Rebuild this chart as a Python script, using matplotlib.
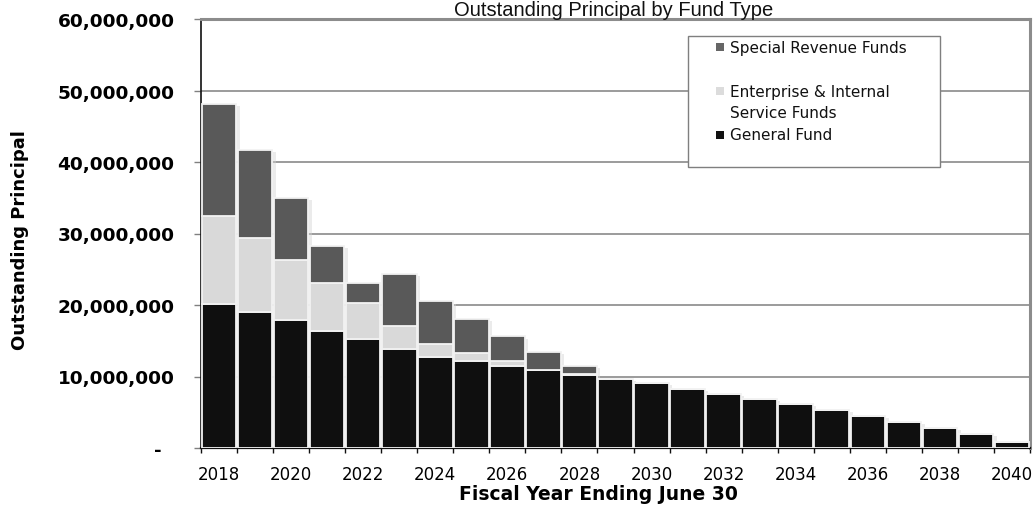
import matplotlib
matplotlib.use("Agg")
import matplotlib.pyplot as plt
import matplotlib.patheffects as pe
from matplotlib.patches import Rectangle
from matplotlib.ticker import FuncFormatter
import numpy as np

# Outstanding principal by fiscal year, in millions of dollars
years = [2018, 2019, 2020, 2021, 2022, 2023, 2024, 2025, 2026, 2027, 2028, 2029,
         2030, 2031, 2032, 2033, 2034, 2035, 2036, 2037, 2038, 2039, 2040]
general_fund = [20.1, 19.0, 17.9, 16.4, 15.2, 13.9, 12.7, 12.1, 11.5, 10.95, 10.15, 9.7,
                9.05, 8.3, 7.6, 6.85, 6.1, 5.3, 4.5, 3.65, 2.8, 1.9, 0.85]
enterprise_internal = [12.4, 10.4, 8.4, 6.7, 5.1, 3.2, 1.8, 1.2, 0.6, 0.0, 0.15, 0.0,
                       0.0, 0.0, 0.0, 0.0, 0.0, 0.0, 0.0, 0.0, 0.0, 0.0, 0.0]
special_revenue = [15.6, 12.3, 8.7, 5.1, 2.8, 7.2, 6.0, 4.7, 3.5, 2.45, 1.2, 0.0,
                   0.0, 0.0, 0.0, 0.0, 0.0, 0.0, 0.0, 0.0, 0.0, 0.0, 0.0]
series_labels = ["Special Revenue Funds", "Enterprise & Internal\nService Funds", "General Fund"]
year_labels = [str(y) for y in years]

MILLION = 1e6
gen = np.array(general_fund) * MILLION
ent = np.array(enterprise_internal) * MILLION
spe = np.array(special_revenue) * MILLION
total = gen + ent + spe

W, H = 1033, 506
fig = plt.figure(figsize=(W / 100, H / 100), dpi=100)
fig.patch.set_facecolor("white")
ax = fig.add_axes([201 / W, 1 - 449 / H, 829 / W, 429 / H])

x = np.arange(len(years)) + 0.5
ax.set_xlim(0, len(years))
ax.set_ylim(0, 60 * MILLION)

bar_w = 0.96
edge = "#f2f2f2"
# soft drop shadow behind each column
ax.bar(x, total, width=bar_w, color="none", linewidth=0, zorder=2,
       path_effects=[pe.SimplePatchShadow(offset=(2.5, -1.5), shadow_rgbFace="#d4d4d4", alpha=0.45)])
ax.bar(x, gen, width=bar_w, color="#0f0f0f", edgecolor=edge, linewidth=1.3, zorder=3)
ax.bar(x, ent, width=bar_w, bottom=gen, color="#d9d9d9", edgecolor=edge, linewidth=1.3, zorder=3)
ax.bar(x, spe, width=bar_w, bottom=gen + ent, color="#595959", edgecolor=edge, linewidth=1.3, zorder=3)

# gridlines and frame
ax.set_axisbelow(True)
ax.yaxis.grid(True, color="#8a8a8a", linewidth=1.2)
ax.spines["left"].set_color("#111111")
ax.spines["left"].set_linewidth(1.2)
ax.spines["bottom"].set_color("#111111")
ax.spines["bottom"].set_linewidth(1.6)
ax.spines["top"].set_color("#8c8c8c")
ax.spines["top"].set_linewidth(2.2)
ax.spines["right"].set_color("#8c8c8c")
ax.spines["right"].set_linewidth(2.2)

# y axis
ax.set_yticks(np.arange(0, 61, 10) * MILLION)
ax.yaxis.set_major_formatter(FuncFormatter(lambda v, p: f"{v:,.0f}" if v > 0 else "-  "))
ax.tick_params(axis="y", direction="out", length=5, width=1, color="#808080", pad=14)
for lbl in ax.get_yticklabels():
    lbl.set_fontfamily("DejaVu Sans")
    lbl.set_fontweight("bold")
    lbl.set_fontsize(13.3)
ax.set_ylabel("Outstanding Principal", fontsize=13, fontweight="bold", family="DejaVu Sans")
ax.yaxis.set_label_coords(-0.207, 0.487)

# x axis: tick marks between categories, labels on every other category
ax.set_xticks(np.arange(len(years) + 1))
ax.tick_params(axis="x", which="major", direction="out", length=3.6, width=1,
               color="#111111", labelbottom=False)
ax.set_xticks(x[::2], labels=year_labels[::2], minor=True)
ax.tick_params(axis="x", which="minor", length=0, pad=12, labelsize=12)
ax.set_xlabel("Fiscal Year Ending June 30", fontsize=13.5, fontweight="bold", family="DejaVu Sans")
ax.xaxis.set_label_coords(0.4795, -0.085)

# title
fig.text(613.5 / W, 1 - 0.5 / H, "Outstanding Principal by Fund Type", ha="center", va="top",
         fontsize=14.5, family="Liberation Sans", color="#111111")

# legend
lx0, lx1, ly0, ly1 = 688, 940, 37, 168
fig.add_artist(Rectangle((lx0 / W, 1 - ly1 / H), (lx1 - lx0) / W, (ly1 - ly0) / H,
                         transform=fig.transFigure, facecolor="white", edgecolor="#7f7f7f",
                         linewidth=1.0, zorder=10))
legend_colors = ["#666666", "#dcdcdc", "#111111"]
marker_y = [48, 92, 136]
text_y = [48, 103.5, 136]
msz = 8
for lab, col, my, ty in zip(series_labels, legend_colors, marker_y, text_y):
    fig.add_artist(Rectangle(((720 - msz / 2) / W, 1 - (my + msz / 2) / H), msz / W, msz / H,
                             transform=fig.transFigure, facecolor=col, edgecolor="none", zorder=11))
    fig.text(729.5 / W, 1 - ty / H, lab, ha="left", va="center", fontsize=11,
             family="DejaVu Sans", color="#111111", linespacing=1.5, zorder=11)

fig.savefig("out.png", dpi=100, facecolor="white")
